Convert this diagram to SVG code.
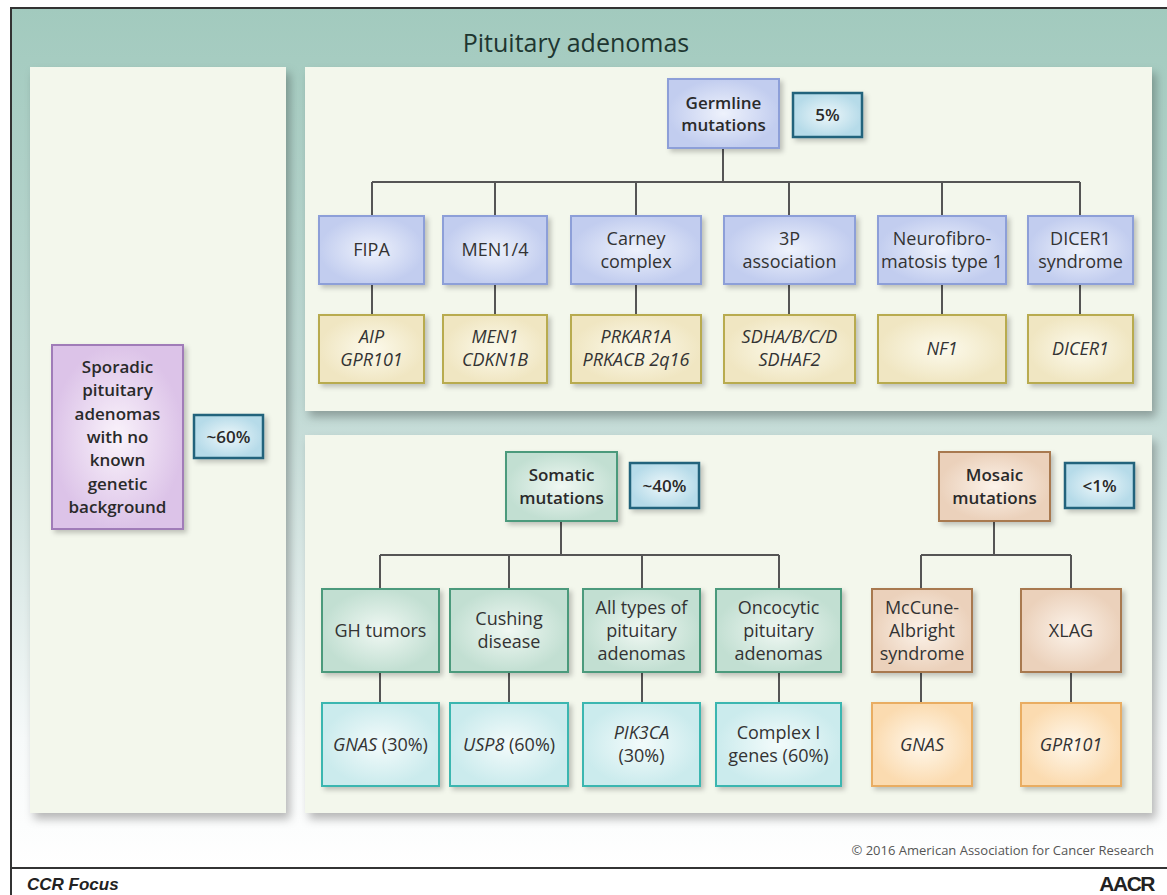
<svg xmlns="http://www.w3.org/2000/svg" width="1167" height="895" viewBox="0 0 1167 895">
<defs>
<linearGradient id="bg" x1="0" y1="8" x2="0" y2="868" gradientUnits="userSpaceOnUse">
<stop offset="0" stop-color="#a2cabe"/>
<stop offset="0.45" stop-color="#c0d9d4"/>
<stop offset="0.85" stop-color="#f6f9f9"/>
<stop offset="1" stop-color="#ffffff"/>
</linearGradient>
<radialGradient id="gBlue"><stop offset="0" stop-color="#eef2fc"/><stop offset="1" stop-color="#c2cdef"/></radialGradient>
<radialGradient id="gYel"><stop offset="0" stop-color="#fcfaec"/><stop offset="1" stop-color="#f0e6c2"/></radialGradient>
<radialGradient id="gPct"><stop offset="0" stop-color="#edf7fa"/><stop offset="1" stop-color="#b6dbe9"/></radialGradient>
<radialGradient id="gPur"><stop offset="0" stop-color="#faf3fb"/><stop offset="1" stop-color="#dcc3e8"/></radialGradient>
<radialGradient id="gGrn"><stop offset="0" stop-color="#f0f8f3"/><stop offset="1" stop-color="#c2dfd2"/></radialGradient>
<radialGradient id="gCyan"><stop offset="0" stop-color="#f3fbfb"/><stop offset="1" stop-color="#cbebed"/></radialGradient>
<radialGradient id="gBrn"><stop offset="0" stop-color="#fcf3ea"/><stop offset="1" stop-color="#ebd1bb"/></radialGradient>
<radialGradient id="gOrg"><stop offset="0" stop-color="#fff8ec"/><stop offset="1" stop-color="#fbdbb0"/></radialGradient>
<filter id="pshadow" x="-5%" y="-5%" width="115%" height="115%">
<feDropShadow dx="4" dy="6" stdDeviation="5" flood-color="#000" flood-opacity="0.28"/>
</filter>
<filter id="bshadow" x="-10%" y="-10%" width="130%" height="130%">
<feDropShadow dx="3" dy="3" stdDeviation="2.5" flood-color="#000" flood-opacity="0.22"/>
</filter>
</defs>
<style>
.panel{fill:#f3f7ec;filter:url(#pshadow)}
.box{stroke-width:2;filter:url(#bshadow)}
.blue{fill:url(#gBlue);stroke:#8d9fd8}
.yel{fill:url(#gYel);stroke:#b8ab4f}
.pct{fill:url(#gPct);stroke:#23647c;stroke-width:2.5}
.pur{fill:url(#gPur);stroke:#a07bb8}
.grn{fill:url(#gGrn);stroke:#4c9a7b}
.cyan{fill:url(#gCyan);stroke:#3bb6b0}
.brn{fill:url(#gBrn);stroke:#a8794f}
.org{fill:url(#gOrg);stroke:#e9ad62}
text{font-family:"Open Sans","Noto Sans","Liberation Sans",sans-serif;fill:#333;text-anchor:middle}
.lbl{font-size:18px}
.it{font-style:italic}
.hd{font-size:17px;font-weight:600;fill:#2a2a2a}
.conn{stroke:#555;stroke-width:2;fill:none}
</style>

<rect x="0" y="0" width="1167" height="895" fill="#ffffff"/>
<rect x="11" y="8" width="1156" height="860" fill="url(#bg)"/>
<path d="M11 895 V8 H1167" fill="none" stroke="#333" stroke-width="2"/>
<line x1="11" y1="868" x2="1167" y2="868" stroke="#333" stroke-width="2"/>

<text x="576" y="52" style="font-size:25px;font-weight:500;fill:#1e3630">Pituitary adenomas</text>

<rect class="panel" x="30" y="67" width="256" height="746"/>
<rect class="panel" x="305" y="67" width="847" height="344"/>
<rect class="panel" x="305" y="435" width="847" height="378"/>

<g id="connectors">
<path class="conn" d="M723 148 V182 M372 182 H1080 M372 182 V216 M495 182 V216 M636 182 V216 M789 182 V216 M942 182 V216 M1080 182 V216"/>
<path class="conn" d="M372 284 V315 M495 284 V315 M636 284 V315 M789 284 V315 M942 284 V315 M1080 284 V315"/>
<path class="conn" d="M561 521 V555 M380 555 H779 M380 555 V589 M509 555 V589 M642 555 V589 M779 555 V589"/>
<path class="conn" d="M380 672 V703 M509 672 V703 M642 672 V703 M779 672 V703"/>
<path class="conn" d="M994 521 V555 M921 555 H1071 M921 555 V589 M1071 555 V589 M921 672 V703 M1071 672 V703"/>
</g>

<g id="sporadic">
<rect class="box pur" x="52" y="345" width="131" height="184"/>
<text class="hd" x="117.5" y="373"><tspan x="117.5">Sporadic</tspan><tspan x="117.5" dy="23.3">pituitary</tspan><tspan x="117.5" dy="23.3">adenomas</tspan><tspan x="117.5" dy="23.3">with no</tspan><tspan x="117.5" dy="23.3">known</tspan><tspan x="117.5" dy="23.3">genetic</tspan><tspan x="117.5" dy="23.3">background</tspan></text>
</g>
<g id="pct60">
<rect class="box pct" x="194" y="415" width="69" height="43"/>
<text class="hd" x="228.5" y="442.5">~60%</text>
</g>

<g id="germline">
<rect class="box blue" x="668" y="79" width="111" height="69"/>
<text class="hd" x="723.5" y="109"><tspan x="723.5">Germline</tspan><tspan x="723.5" dy="22">mutations</tspan></text>
</g>
<g id="pct5">
<rect class="box pct" x="793" y="93" width="69" height="44"/>
<text class="hd" x="827.5" y="121">5%</text>
</g>

<g id="fipa"><rect class="box blue" x="319" y="216" width="105" height="68"/><text class="lbl" x="371.5" y="256">FIPA</text></g>
<g id="men14"><rect class="box blue" x="443" y="216" width="104" height="68"/><text class="lbl" x="495" y="256">MEN1/4</text></g>
<g id="carney"><rect class="box blue" x="571" y="216" width="130" height="68"/><text class="lbl" x="636" y="245"><tspan x="636">Carney</tspan><tspan x="636" dy="23">complex</tspan></text></g>
<g id="p3"><rect class="box blue" x="724" y="216" width="131" height="68"/><text class="lbl" x="789.5" y="245"><tspan x="789.5">3P</tspan><tspan x="789.5" dy="23">association</tspan></text></g>
<g id="nf"><rect class="box blue" x="878" y="216" width="128" height="68"/><text class="lbl" x="942" y="245"><tspan x="942">Neurofibro-</tspan><tspan x="942" dy="23">matosis type 1</tspan></text></g>
<g id="dicer"><rect class="box blue" x="1028" y="216" width="105" height="68"/><text class="lbl" x="1080.5" y="245"><tspan x="1080.5">DICER1</tspan><tspan x="1080.5" dy="23">syndrome</tspan></text></g>

<g id="g-aip"><rect class="box yel" x="319" y="315" width="105" height="68"/><text class="lbl it" x="371.5" y="343"><tspan x="371.5">AIP</tspan><tspan x="371.5" dy="23">GPR101</tspan></text></g>
<g id="g-men1"><rect class="box yel" x="443" y="315" width="104" height="68"/><text class="lbl it" x="495" y="343"><tspan x="495">MEN1</tspan><tspan x="495" dy="23">CDKN1B</tspan></text></g>
<g id="g-prkar"><rect class="box yel" x="571" y="315" width="130" height="68"/><text class="lbl it" x="636" y="343"><tspan x="636">PRKAR1A</tspan><tspan x="636" dy="23">PRKACB 2q16</tspan></text></g>
<g id="g-sdh"><rect class="box yel" x="724" y="315" width="131" height="68"/><text class="lbl it" x="789.5" y="343"><tspan x="789.5">SDHA/B/C/D</tspan><tspan x="789.5" dy="23">SDHAF2</tspan></text></g>
<g id="g-nf1"><rect class="box yel" x="878" y="315" width="128" height="68"/><text class="lbl it" x="942" y="355">NF1</text></g>
<g id="g-dicer1"><rect class="box yel" x="1028" y="315" width="105" height="68"/><text class="lbl it" x="1080.5" y="355">DICER1</text></g>

<g id="somatic">
<rect class="box grn" x="506" y="452" width="111" height="69"/>
<text class="hd" x="561.5" y="481"><tspan x="561.5">Somatic</tspan><tspan x="561.5" dy="23">mutations</tspan></text>
</g>
<g id="pct40"><rect class="box pct" x="630" y="463" width="69" height="45"/><text class="hd" x="664.5" y="491.5">~40%</text></g>
<g id="mosaic">
<rect class="box brn" x="939" y="452" width="111" height="69"/>
<text class="hd" x="994.5" y="481"><tspan x="994.5">Mosaic</tspan><tspan x="994.5" dy="23">mutations</tspan></text>
</g>
<g id="pct1"><rect class="box pct" x="1065" y="463" width="69" height="45"/><text class="hd" x="1099.5" y="491.5">&lt;1%</text></g>

<g id="gh"><rect class="box grn" x="322" y="589" width="117" height="83"/><text class="lbl" x="380.5" y="636.5">GH tumors</text></g>
<g id="cushing"><rect class="box grn" x="450" y="589" width="118" height="83"/><text class="lbl" x="509" y="625"><tspan x="509">Cushing</tspan><tspan x="509" dy="23">disease</tspan></text></g>
<g id="alltypes"><rect class="box grn" x="583" y="589" width="117" height="83"/><text class="lbl" x="641.5" y="613.5"><tspan x="641.5">All types of</tspan><tspan x="641.5" dy="23">pituitary</tspan><tspan x="641.5" dy="23">adenomas</tspan></text></g>
<g id="oncocytic"><rect class="box grn" x="716" y="589" width="125" height="83"/><text class="lbl" x="778.5" y="613.5"><tspan x="778.5">Oncocytic</tspan><tspan x="778.5" dy="23">pituitary</tspan><tspan x="778.5" dy="23">adenomas</tspan></text></g>
<g id="mccune"><rect class="box brn" x="872" y="589" width="100" height="83"/><text class="lbl" x="922" y="613.5"><tspan x="922">McCune-</tspan><tspan x="922" dy="23">Albright</tspan><tspan x="922" dy="23">syndrome</tspan></text></g>
<g id="xlag"><rect class="box brn" x="1021" y="589" width="100" height="83"/><text class="lbl" x="1071" y="636.5">XLAG</text></g>

<g id="g-gnas30"><rect class="box cyan" x="322" y="703" width="117" height="83"/><text class="lbl" x="380.5" y="750.5"><tspan class="it">GNAS</tspan> (30%)</text></g>
<g id="g-usp8"><rect class="box cyan" x="450" y="703" width="118" height="83"/><text class="lbl" x="509" y="750.5"><tspan class="it">USP8</tspan> (60%)</text></g>
<g id="g-pik3ca"><rect class="box cyan" x="583" y="703" width="117" height="83"/><text class="lbl" x="641.5" y="739"><tspan class="it" x="641.5">PIK3CA</tspan><tspan x="641.5" dy="23">(30%)</tspan></text></g>
<g id="g-complex"><rect class="box cyan" x="716" y="703" width="125" height="83"/><text class="lbl" x="778.5" y="739"><tspan x="778.5">Complex I</tspan><tspan x="778.5" dy="23">genes (60%)</tspan></text></g>
<g id="g-gnas"><rect class="box org" x="872" y="703" width="100" height="83"/><text class="lbl it" x="922" y="750.5">GNAS</text></g>
<g id="g-gpr101"><rect class="box org" x="1021" y="703" width="100" height="83"/><text class="lbl it" x="1071" y="750.5">GPR101</text></g>

<text x="1154" y="855" style="font-size:13px;fill:#555;text-anchor:end">© 2016 American Association for Cancer Research</text>
<text x="27" y="890" style="font-family:'Liberation Sans',Arial,sans-serif;font-size:17px;font-weight:bold;font-style:italic;fill:#222;text-anchor:start">CCR Focus</text>
<text x="1154" y="891" style="font-family:'Liberation Sans',Arial,sans-serif;font-size:21px;font-weight:bold;fill:#222;text-anchor:end;letter-spacing:-1.5px">AACR</text>
</svg>
